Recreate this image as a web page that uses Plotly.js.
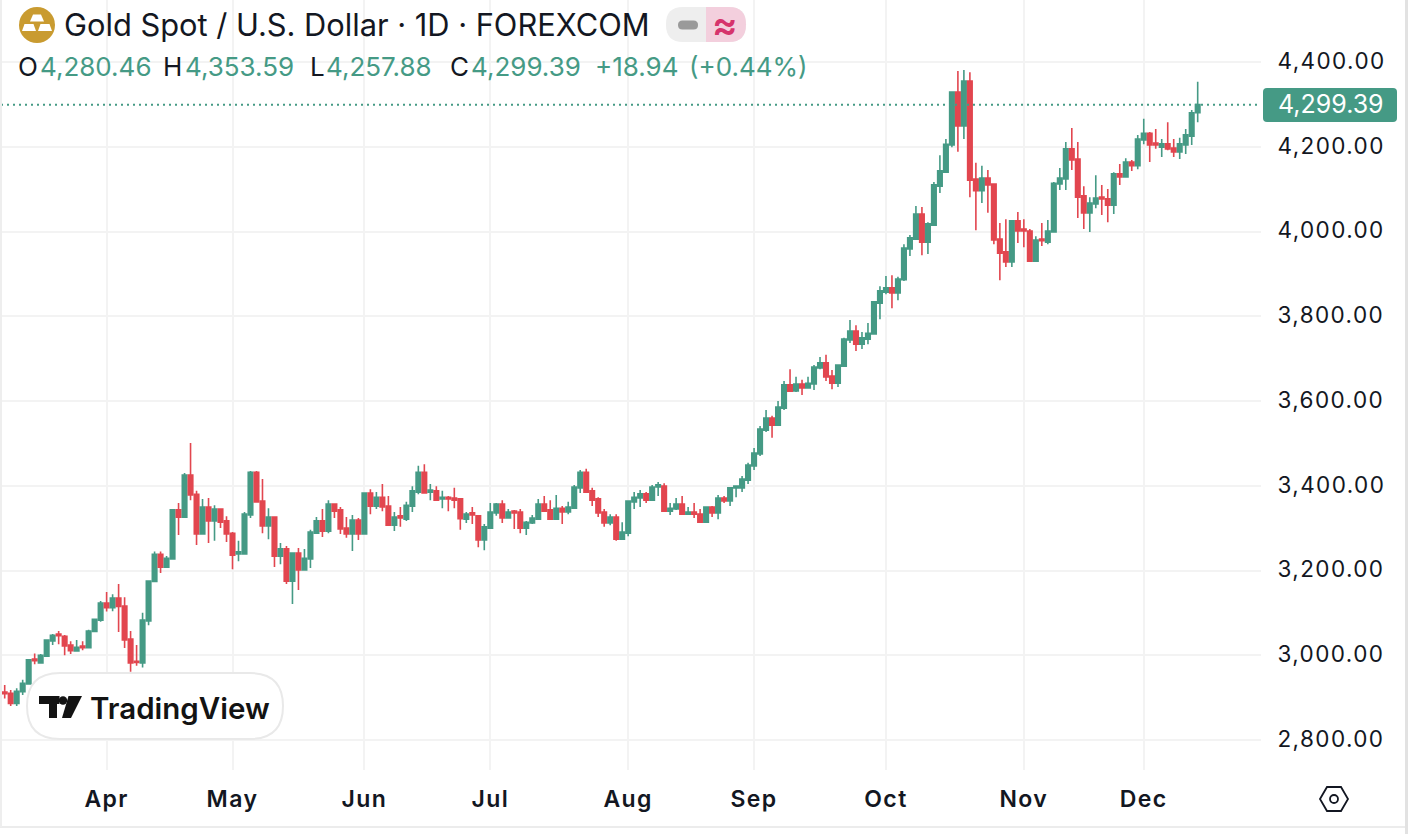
<!DOCTYPE html>
<html><head><meta charset="utf-8">
<script src="https://cdn.plot.ly/plotly-3.0.1.min.js"></script>
<style>
html,body{margin:0;padding:0;background:#fff;overflow:hidden}
#chart{width:1408px;height:834px}
svg text{font-variant-numeric:tabular-nums}
.ytick text{letter-spacing:1.4px}
.xtick text{letter-spacing:1.4px}
</style></head><body><div id="chart"></div>
<script>
const opens=[2913,2910,2886,2914,2932,2991,2982,2998,3034,3050,
3045,3024,3010,3022,3018,3056,3083,3123,3112,3135,
3116,3038,2986,2982,3081,3174,3238,3208,3227,3343,
3326,3425,3380,3286,3350,3317,3345,3317,3288,3239,
3239,3331,3432,3364,3305,3326,3234,3251,3175,3241,
3201,3227,3288,3317,3293,3357,3343,3300,3286,3319,
3286,3383,3352,3373,3352,3307,3329,3321,3352,3385,
3432,3385,3388,3369,3373,3371,3369,3321,3336,3329,
3272,3300,3336,3357,3324,3340,3338,3300,3312,3321,
3357,3343,3321,3347,3338,3347,3395,3432,3388,3369,
3338,3312,3326,3274,3288,3362,3371,3381,3366,3397,
3399,3340,3345,3357,3333,3338,3333,3314,3350,3336,
3371,3364,3395,3395,3413,3447,3475,3531,3560,3543,
3583,3638,3624,3640,3631,3640,3678,3690,3659,3642,
3682,3744,3765,3734,3746,3758,3831,3857,3867,3855,
3886,3959,3982,4041,3975,4015,4107,4140,4204,4329,
4249,4355,4124,4096,4126,4112,3982,3952,3928,4025,
4006,4001,3930,3982,3975,3999,4112,4124,4195,4171,
4084,4044,4065,4081,4077,4062,4136,4129,4164,4155,
4216,4232,4209,4199,4207,4197,4188,4204,4225,4280.46];
const highs=[2930,2918,2922,2942,2989,3004,3003,3038,3050,3057,
3048,3033,3036,3033,3060,3087,3128,3149,3144,3168,
3137,3057,3024,3100,3177,3245,3245,3234,3343,3359,
3430,3501,3388,3369,3371,3354,3345,3328,3291,3270,
3338,3435,3435,3416,3347,3326,3265,3258,3241,3253,
3251,3296,3326,3345,3366,3357,3350,3326,3331,3324,
3383,3392,3385,3404,3376,3338,3350,3362,3399,3447,
3451,3404,3399,3388,3376,3395,3371,3338,3350,3329,
3310,3359,3359,3366,3345,3343,3345,3317,3331,3369,
3376,3366,3378,3352,3362,3402,3437,3440,3395,3373,
3345,3333,3333,3314,3364,3385,3390,3385,3402,3409,
3406,3359,3371,3376,3350,3359,3345,3350,3352,3378,
3376,3395,3399,3423,3454,3489,3541,3579,3565,3600,
3647,3675,3657,3650,3657,3685,3704,3709,3673,3685,
3749,3791,3779,3763,3784,3834,3871,3895,3897,3893,
3970,3992,4060,4058,4022,4117,4180,4218,4331,4379,
4381,4376,4162,4155,4145,4112,4020,4029,4027,4046,
4029,4006,3989,4020,4027,4117,4150,4211,4244,4211,
4107,4081,4133,4110,4100,4140,4159,4173,4169,4228,
4266,4235,4242,4218,4258,4218,4221,4242,4287,4353.59];
const lows=[2898,2880,2880,2906,2932,2979,2982,2998,3024,3026,
3000,3003,3008,3012,3018,3055,3079,3103,3104,3055,
3017,2961,2975,2971,3071,3174,3194,3208,3227,3284,
3326,3366,3260,3286,3265,3270,3300,3267,3203,3222,
3239,3324,3362,3288,3274,3208,3215,3168,3121,3154,
3201,3206,3286,3279,3288,3324,3286,3277,3246,3272,
3286,3333,3345,3340,3307,3293,3303,3317,3338,3380,
3383,3366,3364,3347,3340,3347,3296,3312,3310,3255,
3248,3300,3329,3312,3324,3298,3288,3284,3310,3321,
3340,3321,3319,3310,3333,3345,3383,3383,3352,3326,
3303,3307,3270,3274,3281,3345,3350,3359,3366,3376,
3340,3331,3343,3331,3333,3324,3314,3312,3326,3321,
3359,3352,3373,3385,3404,3437,3470,3527,3513,3541,
3579,3623,3621,3614,3631,3626,3675,3647,3628,3633,
3682,3737,3718,3723,3734,3758,3793,3852,3819,3838,
3883,3942,3982,3944,3947,4013,4091,4140,4199,4188,
4218,4081,4003,4067,4044,3970,3885,3916,3916,3973,
3963,3928,3930,3966,3970,3999,4098,4098,4145,4032,
4006,3999,4055,4039,4022,4041,4110,4129,4143,4147,
4206,4164,4195,4176,4192,4176,4171,4183,4204,4257.88];
const closes=[2909,2886,2915,2934,2989,2987,3000,3036,3047,3046,
3022,3011,3019,3018,3057,3085,3123,3112,3135,3115,
3036,2982,2983,3083,3175,3238,3208,3229,3343,3326,
3425,3378,3286,3350,3317,3345,3314,3286,3236,3244,
3333,3432,3362,3305,3326,3234,3251,3175,3241,3201,
3229,3291,3317,3293,3357,3340,3298,3286,3319,3286,
3383,3352,3373,3350,3307,3326,3324,3354,3388,3432,
3383,3390,3366,3373,3369,3366,3322,3333,3331,3272,
3303,3338,3357,3324,3338,3336,3300,3314,3324,3357,
3340,3321,3347,3338,3350,3397,3432,3385,3366,3336,
3312,3326,3274,3291,3364,3373,3381,3366,3397,3402,
3340,3347,3357,3333,3338,3333,3314,3350,3336,3371,
3364,3395,3399,3416,3449,3477,3534,3560,3543,3586,
3638,3623,3640,3631,3642,3680,3690,3657,3642,3685,
3746,3765,3734,3749,3760,3834,3860,3867,3855,3888,
3961,3985,4041,3975,4018,4110,4143,4206,4329,4249,
4355,4121,4096,4126,4110,3980,3949,3928,4025,4001,
4001,3930,3980,3978,4001,4114,4126,4195,4169,4081,
4044,4067,4079,4077,4062,4136,4129,4164,4155,4218,
4232,4204,4204,4207,4195,4188,4207,4228,4280,4299.39];
const monthBars=[17,38,60,81,104,125,147,170,190];
const monthNames=["Apr","May","Jun","Jul","Aug","Sep","Oct","Nov","Dec"];
const priceTicks=[2800,3000,3200,3400,3600,3800,4000,4200,4400];
const titleText="Gold Spot / U.S. Dollar · 1D · FOREXCOM";
const legendLabels=["O","H","L","C"];
const legendValues=["4,280.46","4,353.59","4,257.88","4,299.39"];
const changeText=["+18.94","(+0.44%)"];
const lastPrice=closes[closes.length-1];

const UP="#459a85",DOWN="#e2464f",INK="#131722",GRID="#f3f3f3";
const FONT="Inter, 'Open Sans', sans-serif";
const W=1408,H=834,L=1,R=1261,B=770;
const px=x=>(x-L)/(R-L), py=y=>(B-y)/B;
const path=(pts,close=true)=>pts.map((p,i)=>(i?"L":"M")+px(p[0])+" "+py(p[1])).join(" ")+(close?" Z":"");
function rr(x0,y0,x1,y1,r){const X=px,Y=py;return `M${X(x0+r)} ${Y(y0)} L${X(x1-r)} ${Y(y0)} Q${X(x1)} ${Y(y0)} ${X(x1)} ${Y(y0+r)} L${X(x1)} ${Y(y1-r)} Q${X(x1)} ${Y(y1)} ${X(x1-r)} ${Y(y1)} L${X(x0+r)} ${Y(y1)} Q${X(x0)} ${Y(y1)} ${X(x0)} ${Y(y1-r)} L${X(x0)} ${Y(y0+r)} Q${X(x0)} ${Y(y0)} ${X(x0+r)} ${Y(y0)} Z`;}
const shp=(d,fill,line,lw)=>({type:"path",xref:"paper",yref:"paper",path:d,fillcolor:fill||"rgba(0,0,0,0)",line:{color:line||"rgba(0,0,0,0)",width:lw||0},layer:"above"});
const circ=(cx,cy,r,fill,line,lw)=>({type:"circle",xref:"paper",yref:"paper",x0:px(cx-r),x1:px(cx+r),y0:py(cy+r),y1:py(cy-r),fillcolor:fill,line:{color:line||"rgba(0,0,0,0)",width:lw||0},layer:"above"});
const txt=(x,y,t,size,color,opt={})=>Object.assign({xref:"paper",yref:"paper",x:px(x),y:py(y),text:t,showarrow:false,xanchor:"left",yanchor:"middle",font:{family:FONT,size:size,color:color},borderpad:0,borderwidth:0},opt);

const shapes=[
 {type:"line",xref:"paper",yref:"y",x0:0,x1:0.9985,y0:lastPrice,y1:lastPrice,line:{color:UP,width:2,dash:"2px,4px"},layer:"above"},
 shp(path([[0,827],[1405,827]],false),null,"#ececec",2),
 shp(path([[1,0],[1,827]],false),null,"#eeeeee",2),
 shp(path([[1405,0],[1408,0],[1408,834],[1405,834]]),"#e2e2e2"),
 shp(rr(1263,88,1397,122,4),UP),
 circ(37,25,18,"#c99b30"),
 shp(path([[33,14.5],[41,14.5],[44,21.5],[30,21.5]]),"#ffffff"),
 shp(path([[24.5,24],[33.5,24],[36,31],[22,31]]),"#ffffff"),
 shp(path([[40.5,24],[49.5,24],[52,31],[38,31]]),"#ffffff"),
 shp(rr(666,7,746,42,17),"#eeeeee"),
 shp(`M${px(706)} ${py(7)} L${px(729)} ${py(7)} Q${px(746)} ${py(7)} ${px(746)} ${py(24.5)} Q${px(746)} ${py(42)} ${px(729)} ${py(42)} L${px(706)} ${py(42)} Z`,"#f3cfdd"),
 shp(rr(678,20.5,698,29.5,4.5),"#9a9a9a"),
 shp(rr(27,673,283,739,33),"#ffffff","#e9e9e9",2),
 shp(path([[39,696],[59.5,696],[59.5,704],[57,704],[57,718],[49,718],[49,704],[39,704]]),"#131313"),
 circ(63,700.5,4.2,"#131313"),
 shp(path([[68.5,696],[82,696],[71,718],[62,718]]),"#131313"),
 shp(path([[1320,799],[1327,787],[1341,787],[1348,799],[1341,811],[1327,811]]),"rgba(0,0,0,0)",INK,1.8),
 circ(1334,799,4,"rgba(0,0,0,0)",INK,1.8)
];

const legendX=[18,163,310,450], valueX=[40,185,326,471];
const annotations=[
 txt(64,25,titleText,30.8,INK),
 txt(725,24,"≈",38,"#d6336c",{xanchor:"center",font:{family:FONT,size:38,color:"#d6336c",weight:600}}),
 txt(1331,104.5,lastPrice.toLocaleString("en-US",{minimumFractionDigits:2}),25,"#ffffff",{xanchor:"center"}),
 txt(90,708,"TradingView",29.5,"#131313",{font:{family:FONT,size:29.5,color:"#131313",weight:600}}),
 txt(595,67,changeText[0],26,UP),
 txt(689,67,changeText[1],26,UP)
];
legendLabels.forEach((l,i)=>{
 annotations.push(txt(legendX[i],67,l,26,INK));
 annotations.push(txt(valueX[i],67,legendValues[i],26,UP));
});

const xs=closes.map((_,i)=>i);
const trace={type:"candlestick",x:xs,open:opens,high:highs,low:lows,close:closes,
 increasing:{line:{color:UP,width:1.6},fillcolor:UP},
 decreasing:{line:{color:DOWN,width:1.6},fillcolor:DOWN},
 whiskerwidth:0,hoverinfo:"skip",showlegend:false};

const layout={width:W,height:H,autosize:false,margin:{l:L,r:W-R,t:0,b:H-B,pad:0},
 paper_bgcolor:"#fff",plot_bgcolor:"#fff",showlegend:false,boxgap:0.25,boxgroupgap:0,dragmode:false,
 xaxis:{type:"linear",range:[-0.617,209.56],rangeslider:{visible:false},tickmode:"array",tickvals:monthBars,ticktext:monthNames,
  showgrid:true,gridcolor:GRID,gridwidth:2,zeroline:false,showline:false,ticks:"outside",ticklen:8,tickcolor:"rgba(0,0,0,0)",
  tickfont:{family:FONT,size:23,color:INK,weight:600},tickangle:0,fixedrange:true},
 yaxis:{type:"linear",side:"right",range:[2729.2,4546.3],tickmode:"array",tickvals:priceTicks,tickformat:",.2f",
  showgrid:true,gridcolor:GRID,gridwidth:2,zeroline:false,showline:false,ticks:"outside",ticklen:11,tickcolor:"rgba(0,0,0,0)",
  tickfont:{family:FONT,size:22.5,color:INK},ticklabelshift:-1,fixedrange:true},
 shapes,annotations};
Plotly.newPlot("chart",[trace],layout,{displayModeBar:false,staticPlot:true});
</script></body></html>
